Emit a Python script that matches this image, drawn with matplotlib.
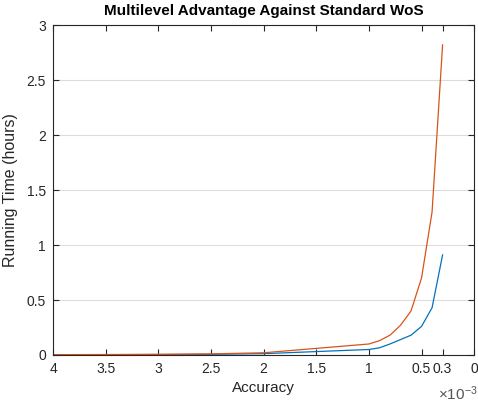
import matplotlib
matplotlib.use("Agg")
import matplotlib.pyplot as plt

# Accuracy values (x 1e-3) and running times in hours
accuracy = [4.0, 3.5, 3.0, 2.5, 2.0, 1.0, 0.9, 0.8, 0.7, 0.6, 0.5, 0.4, 0.3]
multilevel_hours = [0.002, 0.003, 0.004, 0.006, 0.012, 0.05, 0.065, 0.10, 0.14, 0.18, 0.26, 0.43, 0.91]
standard_hours = [0.003, 0.004, 0.006, 0.010, 0.02, 0.10, 0.13, 0.18, 0.27, 0.40, 0.70, 1.30, 2.82]

x_ticks = [4, 3.5, 3, 2.5, 2, 1.5, 1, 0.5, 0.3, 0]
x_tick_labels = ["4", "3.5", "3", "2.5", "2", "1.5", "1", "0.5", "0.3", "0"]
y_ticks = [0, 0.5, 1, 1.5, 2, 2.5, 3]
y_tick_labels = ["0", "0.5", "1", "1.5", "2", "2.5", "3"]

plt.rcParams["font.family"] = ["Liberation Sans", "DejaVu Sans"]
plt.rcParams["mathtext.fontset"] = "custom"
plt.rcParams["mathtext.rm"] = "Liberation Sans"
edge = "#262626"

fig = plt.figure(figsize=(4.78, 4.05), dpi=100)
ax = fig.add_axes([0.111, 0.1235, 0.881, 0.8145])

scale = 1e-3
ax.plot([a * scale for a in accuracy], multilevel_hours, color="#0072BD", lw=0.9)
ax.plot([a * scale for a in accuracy], standard_hours, color="#D95319", lw=0.9)

ax.set_xlim(4 * scale, 0)
ax.set_ylim(0, 3)
ax.set_xticks([t * scale for t in x_ticks])
ax.set_xticklabels(x_tick_labels)
ax.set_yticks(y_ticks)
ax.set_yticklabels(y_tick_labels)

ax.grid(axis="y", color="#dcdcdc", lw=0.8)
ax.set_axisbelow(True)
ax.tick_params(direction="in", top=True, right=True, length=4, width=0.8,
               colors=edge, labelsize=10, pad=5)
for s in ax.spines.values():
    s.set_color(edge)
    s.set_linewidth(0.8)

ax.set_xlabel("Accuracy", fontsize=11, color=edge, labelpad=4)
ax.set_ylabel("Running Time (hours)", fontsize=11.5, color=edge, labelpad=6)
ax.set_title("Multilevel Advantage Against Standard WoS", fontsize=11,
             fontweight="bold", color="black", pad=7)
ax.text(1.008, -0.135, r"$\mathrm{\times 10^{-3}}$", transform=ax.transAxes,
        ha="right", va="baseline", fontsize=11, color="#555555")

fig.savefig("out.png", dpi=100, facecolor="white")
